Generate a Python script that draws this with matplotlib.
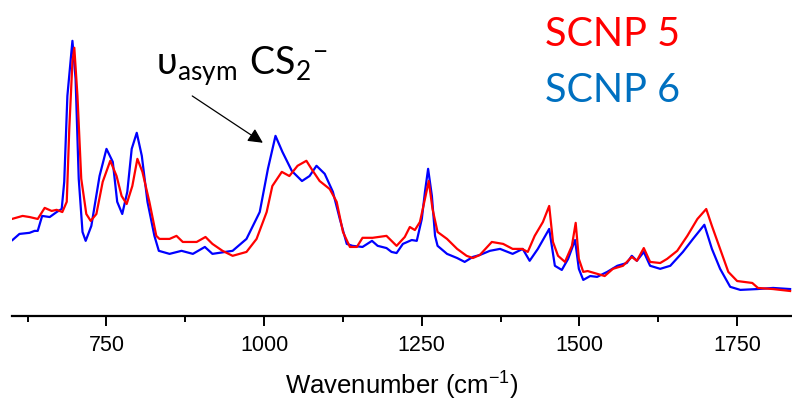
# -*- coding: utf-8 -*-

# FTIR spectra of SCNP 5 / SCNP 6 (arbitrary units)

import numpy as np
import matplotlib.pyplot as plt


# SCNP 5 (red)
wn_5 = [600, 617, 628, 641, 652, 663, 671, 680, 687, 691, 696, 699, 704, 710, 718, 725,
        734, 744, 756, 766, 774, 782, 791, 799, 807, 818, 829, 834, 850, 861, 871, 893,
        907, 918, 934, 950, 972, 988, 1004, 1013, 1028, 1040, 1053, 1067, 1075, 1088,
        1104, 1115, 1125, 1136, 1147, 1156, 1172, 1194, 1210, 1223, 1231, 1239, 1247,
        1256, 1261, 1267, 1275, 1290, 1306, 1321, 1331, 1342, 1361, 1379, 1394, 1409,
        1418, 1429, 1442, 1452, 1458, 1466, 1477, 1488, 1494, 1499, 1506, 1513, 1528,
        1540, 1553, 1569, 1583, 1591, 1602, 1612, 1628, 1639, 1655, 1671, 1687, 1701,
        1710, 1723, 1736, 1750, 1774, 1783, 1807, 1834]
abs_5 = [0.350, 0.361, 0.357, 0.350, 0.390, 0.379, 0.383, 0.375, 0.412, 0.675, 0.917,
         0.968, 0.794, 0.495, 0.368, 0.343, 0.368, 0.484, 0.560, 0.505, 0.433, 0.404,
         0.469, 0.567, 0.520, 0.412, 0.289, 0.278, 0.278, 0.289, 0.267, 0.267, 0.285,
         0.260, 0.235, 0.217, 0.231, 0.278, 0.375, 0.469, 0.520, 0.505, 0.542, 0.560,
         0.531, 0.487, 0.458, 0.412, 0.303, 0.249, 0.249, 0.282, 0.282, 0.289, 0.253,
         0.285, 0.321, 0.310, 0.339, 0.433, 0.487, 0.386, 0.303, 0.278, 0.242, 0.217,
         0.209, 0.220, 0.267, 0.260, 0.242, 0.242, 0.231, 0.289, 0.339, 0.397, 0.267,
         0.217, 0.195, 0.253, 0.336, 0.206, 0.159, 0.162, 0.152, 0.144, 0.170, 0.181,
         0.213, 0.199, 0.245, 0.195, 0.191, 0.206, 0.235, 0.289, 0.350, 0.386, 0.325,
         0.242, 0.159, 0.126, 0.119, 0.101, 0.097, 0.090]

# SCNP 6 (blue)
wn_6 = [601, 612, 628, 636, 641, 648, 660, 671, 679, 683, 688, 696, 701, 706, 712, 717,
        726, 739, 750, 760, 767, 775, 783, 790, 798, 806, 815, 826, 833, 850, 869, 887,
        906, 918, 950, 972, 993, 1006, 1018, 1029, 1044, 1060, 1072, 1083, 1096, 1109,
        1120, 1131, 1140, 1156, 1171, 1180, 1194, 1202, 1210, 1220, 1234, 1242, 1250,
        1255, 1260, 1266, 1271, 1275, 1290, 1306, 1318, 1331, 1342, 1358, 1374, 1394,
        1410, 1421, 1434, 1452, 1461, 1472, 1482, 1493, 1499, 1506, 1517, 1528, 1544,
        1560, 1575, 1583, 1591, 1602, 1612, 1628, 1644, 1664, 1680, 1698, 1710, 1723,
        1739, 1755, 1782, 1807, 1834]
abs_6 = [0.274, 0.296, 0.300, 0.307, 0.307, 0.361, 0.357, 0.375, 0.386, 0.484, 0.794,
         0.993, 0.856, 0.495, 0.303, 0.271, 0.325, 0.505, 0.603, 0.556, 0.412, 0.368,
         0.448, 0.603, 0.661, 0.578, 0.412, 0.289, 0.235, 0.224, 0.235, 0.224, 0.249,
         0.224, 0.235, 0.278, 0.375, 0.531, 0.650, 0.592, 0.523, 0.487, 0.505, 0.542,
         0.513, 0.448, 0.350, 0.260, 0.253, 0.249, 0.271, 0.253, 0.245, 0.231, 0.227,
         0.260, 0.274, 0.271, 0.350, 0.448, 0.531, 0.433, 0.289, 0.253, 0.224, 0.209,
         0.195, 0.213, 0.220, 0.235, 0.242, 0.224, 0.242, 0.199, 0.242, 0.314, 0.181,
         0.166, 0.206, 0.274, 0.170, 0.130, 0.144, 0.141, 0.159, 0.181, 0.191, 0.217,
         0.199, 0.231, 0.181, 0.170, 0.181, 0.231, 0.278, 0.329, 0.242, 0.170, 0.105,
         0.094, 0.097, 0.101, 0.097]

series_names = ['SCNP 5', 'SCNP 6']
label_colors = ['#FF0000', '#0070C0']

# annotation: arrow start/end in data units
arrow_from = (886, 0.794)
arrow_to = (998, 0.625)
note_pos = (829, 0.874)


plt.rcParams['font.family'] = ['Liberation Sans', 'DejaVu Sans']
fig = plt.figure(figsize=(7.92, 4.10), dpi=100)
ax = fig.add_axes([0.015, 0.227, 0.985, 0.773])

ax.plot(wn_6, abs_6, color='#0000FF', lw=1.6)
ax.plot(wn_5, abs_5, color='#FF0000', lw=1.6)

ax.set_xlim(600, 1837)
ax.set_ylim(0, 1.144)

# 只保留底部坐标轴
for s in ['left', 'right', 'top']:
    ax.spines[s].set_visible(False)
ax.spines['bottom'].set_linewidth(1.6)
ax.set_yticks([])
ax.set_xticks([750, 1000, 1250, 1500, 1750])
ax.set_xticks(np.arange(625, 1837, 250), minor=True)
ax.tick_params(axis='x', which='major', length=7, width=1.4, labelsize=15.5, pad=6)
ax.tick_params(axis='x', which='minor', length=4.5, width=1.4)
ax.set_xlabel(r'Wavenumber (cm$\mathregular{^{-1}}$)', fontsize=18.5, labelpad=10)

# 图例文字
for i, name in enumerate(series_names):
    fig.text(545 / 792, 1 - (34 + 57 * i) / 410, name, color=label_colors[i],
             fontsize=28.5, family=['Lato', 'DejaVu Sans'], ha='left', va='center')

# 峰标注
ax.annotate('', xy=arrow_to, xytext=arrow_from,
            arrowprops=dict(arrowstyle='-|>', mutation_scale=22, color='black',
                            lw=0.9, shrinkA=0, shrinkB=0))
ax.text(note_pos[0], note_pos[1], r'$\mathregular{υ_{asym}\ CS_2{}^{-}}$', fontsize=27,
        family=['Lato', 'DejaVu Sans'], ha='left', va='baseline', color='black')

fig.savefig('out.png', dpi=100)
